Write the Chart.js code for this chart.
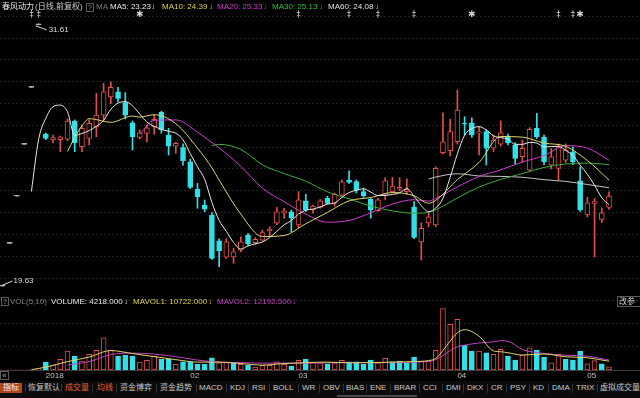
<!DOCTYPE html>
<html>
<head>
<meta charset="utf-8">
<title>春风动力 日线</title>
<script src="https://cdn.jsdelivr.net/npm/chart.js@4.4.1/dist/chart.umd.min.js"></script>
<style>
  body { margin: 0; width: 640px; height: 398px; background: #000; overflow: hidden; position: relative;
         font-family: "Liberation Sans", Arial, "Noto Sans CJK SC", sans-serif; font-size: 8px; }
  canvas { position: absolute; left: 0; }
  #price { top: 0; }
  #vol { top: 300px; }
  .t { position: absolute; white-space: nowrap; line-height: 10px; z-index: 2; }
  .box { position: absolute; border: 1px solid #5a5a5a; color: #999; text-align: center; line-height: 7px;
         font-size: 7px; z-index: 2; box-sizing: border-box; overflow: hidden; }
  #tabs { position: absolute; left: 0; top: 381px; width: 640px; height: 17px; background: #0b0b0b; }
  #tabs span { position: absolute; top: 2px; height: 10px; line-height: 10px; color: #c8c8c8; white-space: nowrap; }
  #tabs i { position: absolute; top: 3px; width: 1px; height: 9px; background: #333; }
</style>
</head>
<body>
<canvas id="price" width="640" height="290"></canvas>
<canvas id="vol" width="640" height="82"></canvas>

<div class="t" style="left:2px;top:2px;color:#e4e4e4">春风动力</div>
<div class="t" style="left:35px;top:2px;color:#d0d0d0">(日线,前复权)</div>
<div class="box" style="left:86px;top:3px;width:8px;height:9px">?</div>
<div class="t" style="left:96px;top:2px;color:#7a7a7a">MA</div>
<div class="t" style="left:110px;top:2px;color:#e8e8e8">MA5: 23.23</div>
<div class="t" style="left:151px;top:2px;color:#e8e8e8">↓</div>
<div class="t" style="left:162px;top:2px;color:#dcd64c">MA10: 24.39</div>
<div class="t" style="left:209px;top:2px;color:#dcd64c">↓</div>
<div class="t" style="left:217px;top:2px;color:#d23cd2">MA20: 25.33</div>
<div class="t" style="left:263px;top:2px;color:#d23cd2">↓</div>
<div class="t" style="left:272px;top:2px;color:#36c036">MA30: 25.13</div>
<div class="t" style="left:319px;top:2px;color:#36c036">↓</div>
<div class="t" style="left:328px;top:2px;color:#e0e0e0">MA60: 24.08</div>
<div class="t" style="left:375px;top:2px;color:#e0e0e0">↓</div>

<div class="box" style="left:1px;top:297px;width:8px;height:9px">?</div>
<div class="t" style="left:10px;top:297px;color:#808080">VOL(5,10)</div>
<div class="t" style="left:51px;top:297px;color:#e8e8e8">VOLUME: 4218.000</div>
<div class="t" style="left:124px;top:297px;color:#e8e8e8">↓</div>
<div class="t" style="left:133px;top:297px;color:#dcd64c">MAVOL1: 10722.000</div>
<div class="t" style="left:208px;top:297px;color:#dcd64c">↓</div>
<div class="t" style="left:217px;top:297px;color:#c040c0">MAVOL2: 12192.500</div>
<div class="t" style="left:292px;top:297px;color:#c040c0">↓</div>
<div class="box" style="left:617px;top:296px;width:26px;height:11px;color:#ccc;font-size:8px;line-height:9px;text-align:left;padding-left:1px">改参数</div>
<div class="box" style="left:0;top:371px;width:9px;height:9px;color:#aaa;font-size:8px">«</div>

<div id="tabs">
  <span style="left:0;background:#b4461c;color:#f2f2f2;padding:0 3px">指标</span>
  <i style="left:25px"></i><span style="left:28px">恢复默认</span>
  <i style="left:61px"></i><span style="left:65px;color:#e8643a">成交量</span>
  <i style="left:92px"></i><span style="left:97px;color:#e8643a">均线</span>
  <i style="left:116px"></i><span style="left:120px">资金博弈</span>
  <i style="left:156px"></i><span style="left:160px">资金趋势</span>
  <i style="left:196px"></i><span style="left:199px">MACD</span>
  <i style="left:226px"></i><span style="left:230px">KDJ</span>
  <i style="left:248px"></i><span style="left:252px">RSI</span>
  <i style="left:269px"></i><span style="left:273px">BOLL</span>
  <i style="left:298px"></i><span style="left:302px">WR</span>
  <i style="left:319px"></i><span style="left:323px">OBV</span>
  <i style="left:343px"></i><span style="left:346px">BIAS</span>
  <i style="left:366px"></i><span style="left:370px">ENE</span>
  <i style="left:390px"></i><span style="left:394px">BRAR</span>
  <i style="left:419px"></i><span style="left:423px">CCI</span>
  <i style="left:442px"></i><span style="left:446px">DMI</span>
  <i style="left:463px"></i><span style="left:467px">DKX</span>
  <i style="left:487px"></i><span style="left:491px">CR</span>
  <i style="left:506px"></i><span style="left:510px">PSY</span>
  <i style="left:529px"></i><span style="left:533px">KD</span>
  <i style="left:548px"></i><span style="left:552px">DMA</span>
  <i style="left:572px"></i><span style="left:576px">TRIX</span>
  <i style="left:597px"></i><span style="left:600px">虚拟成交量</span>
  <b style="position:absolute;left:337px;top:14px;width:80px;height:2px;background:#4a4a4a"></b>
</div>

<script>
// daily candles, index = trading day (0 = first limit-up day)
var opens = [
    19.63, 21.59, 23.75, 26.13, 28.74, 31.61, 26.60, 26.33, 26.35, 26.37,
    27.20, 26.02, 26.40, 26.94, 27.47, 28.31, 28.54, 28.04, 27.12, 26.45,
    26.63, 26.94, 27.60, 26.56, 26.05, 25.98, 25.33, 24.07, 23.35, 22.89,
    21.71, 20.95, 20.97, 21.28, 21.97, 21.62, 21.74, 22.17, 22.51, 22.97,
    23.04, 22.43, 23.54, 23.12, 23.24, 23.65, 23.42, 23.80, 24.49, 24.42,
    23.96, 23.61, 23.09, 23.80, 23.96, 24.07, 23.96, 23.27, 21.66, 22.53,
    22.43, 25.75, 25.84, 26.25, 27.10, 27.12, 26.64, 26.71, 25.95, 26.14,
    26.45, 26.10, 25.56, 24.95, 26.86, 26.45, 25.18, 25.03, 25.41, 25.79,
    24.46, 22.89, 23.42, 22.69, 23.24
];
var highs = [
    19.63, 21.59, 23.75, 26.13, 28.74, 31.61, 26.65, 26.56, 26.51, 27.30,
    27.25, 27.02, 27.25, 28.47, 28.93, 29.00, 28.75, 28.50, 27.20, 26.79,
    27.02, 27.47, 27.65, 26.86, 26.22, 26.15, 25.45, 24.34, 23.58, 23.00,
    21.80, 21.80, 21.36, 21.89, 22.05, 21.85, 22.20, 22.35, 23.24, 23.20,
    23.12, 23.96, 23.84, 23.35, 23.60, 23.75, 23.90, 24.50, 24.92, 24.50,
    24.12, 23.65, 23.65, 24.60, 24.62, 24.60, 24.55, 23.50, 22.53, 23.00,
    25.10, 27.58, 27.28, 28.62, 27.40, 27.35, 26.95, 26.80, 26.56, 27.20,
    26.60, 26.20, 26.33, 26.90, 27.55, 26.55, 25.95, 26.15, 26.15, 26.02,
    25.10, 23.70, 23.65, 23.20, 23.95
];
var lows = [
    19.63, 21.59, 23.75, 26.13, 28.74, 31.61, 26.35, 26.20, 25.79, 26.30,
    25.79, 25.79, 26.10, 26.48, 27.25, 28.00, 28.08, 27.30, 25.87, 26.38,
    26.24, 26.60, 26.64, 25.64, 25.72, 25.18, 24.10, 23.20, 23.04, 20.85,
    20.52, 20.90, 20.67, 21.20, 21.50, 21.55, 21.70, 21.90, 22.45, 22.73,
    22.12, 22.30, 23.05, 22.97, 23.20, 23.40, 23.30, 23.78, 24.34, 23.90,
    23.70, 22.74, 23.05, 23.58, 23.90, 24.00, 23.85, 21.80, 20.82, 22.35,
    22.35, 25.69, 25.60, 26.14, 26.56, 26.45, 25.64, 25.18, 25.80, 26.05,
    26.10, 25.23, 25.30, 24.90, 26.40, 25.20, 25.00, 24.49, 25.30, 25.20,
    23.05, 22.80, 20.97, 22.55, 23.15
];
var closes = [
    19.63, 21.59, 23.75, 26.13, 28.74, 31.61, 26.40, 26.44, 26.47, 27.20,
    26.20, 26.86, 27.09, 27.47, 28.54, 28.75, 28.24, 27.47, 26.48, 26.66,
    26.89, 27.28, 26.79, 26.05, 26.18, 25.38, 24.16, 23.73, 23.16, 20.90,
    21.25, 21.66, 21.20, 21.66, 21.56, 21.77, 22.08, 22.23, 23.04, 23.08,
    22.74, 23.58, 23.12, 23.30, 23.54, 23.42, 23.84, 24.41, 24.38, 24.03,
    23.77, 23.12, 23.58, 24.46, 24.22, 24.16, 24.07, 21.86, 22.28, 22.81,
    25.03, 26.25, 26.71, 27.70, 27.05, 26.56, 26.70, 25.95, 26.33, 26.66,
    26.20, 25.49, 25.95, 26.82, 26.48, 25.33, 25.56, 26.02, 25.87, 25.33,
    23.12, 23.45, 23.50, 22.99, 23.76
];
var volumes = [
    600, 300, 400, 500, 900, 1800, 9700, 6200, 12900, 22600,
    16700, 10900, 18700, 23400, 38100, 23400, 16700, 17600, 16700, 9700,
    11700, 16700, 12900, 12900, 7000, 10100, 10100, 7000, 7000, 14700,
    8900, 9700, 8900, 7000, 5900, 3900, 5900, 5900, 10100, 7000,
    5000, 11700, 12900, 9700, 8900, 7700, 8900, 11700, 10100, 10100,
    7000, 12100, 8900, 14000, 10100, 10900, 8900, 15600, 10900, 10900,
    23400, 72500, 53800, 59700, 29300, 22600, 22600, 20600, 18700, 24600,
    16700, 12100, 17900, 26400, 23800, 15600, 8900, 18800, 12900, 12100,
    22500, 7592, 11500, 7800, 4218
];

// moving averages
var ma5 = [
    null, null, null, null, 23.97, 26.36, 27.33, 27.86, 27.93, 27.62,
    26.54, 26.63, 26.76, 26.96, 27.23, 27.74, 28.02, 28.09, 27.90, 27.52,
    27.15, 26.96, 26.82, 26.73, 26.64, 26.34, 25.71, 25.10, 24.52, 23.47,
    22.64, 22.14, 21.63, 21.33, 21.47, 21.57, 21.65, 21.86, 22.14, 22.44,
    22.63, 22.93, 23.11, 23.16, 23.26, 23.39, 23.44, 23.70, 23.92, 24.02,
    24.09, 23.94, 23.78, 23.79, 23.83, 23.91, 24.10, 23.75, 23.32, 23.04,
    23.21, 23.65, 24.62, 25.70, 26.55, 26.85, 26.94, 26.79, 26.52, 26.44,
    26.37, 26.13, 26.13, 26.22, 26.19, 26.01, 26.03, 26.04, 25.85, 25.62,
    25.18, 24.76, 24.25, 23.68, 23.36
];
var maDays = [9, 10, 11, 12, 15, 18, 19, 21, 24, 27, 29, 30, 33, 36, 39, 42, 45, 48, 51, 54, 57, 59, 60, 63, 66, 69, 72, 75, 78, 81, 84];
var ma10 = [25.80, 26.45, 26.98, 27.31, 27.14, 27.43, 27.38, 27.49, 27.08, 25.96, 25.05, 24.49, 22.93, 21.90, 21.95, 22.49,
            23.01, 23.54, 23.69, 23.92, 23.77, 23.43, 23.56, 24.51, 25.30, 26.49, 26.46, 26.19, 26.04, 25.39, 24.49];
var ma20 = [null, null, null, null, null, null, 26.59, 27.23, 27.25, 26.69, 26.21, 25.97, 25.12, 24.12, 23.50, 22.93,
            22.56, 22.64, 22.99, 23.39, 23.59, 23.53, 23.65, 24.18, 24.66, 24.96, 25.32, 25.61, 26.07, 25.96, 25.40];
var ma30 = [null, null, null, null, null, null, null, null, null, null, 26.07, 26.13, 25.90, 25.19, 24.79, 24.44,
            23.95, 23.63, 23.30, 23.08, 22.97, 23.01, 23.13, 23.67, 24.17, 24.52, 24.79, 25.07, 25.23, 25.27, 25.20];
var ma60 = [null, null, null, null, null, null, null, null, null, null, null, null, null, null, null, null,
            null, null, null, null, null, 24.54, 24.63, 24.78, 24.68, 24.66, 24.62, 24.51, 24.43, 24.29, 24.14];

var volMaDays = [4, 6, 9, 12, 15, 18, 21, 24, 27, 30, 33, 36, 39, 42, 45, 48, 51, 54, 57, 59, 60, 62, 63, 64, 66, 68, 69, 70, 72, 75, 78, 81, 84];
var mavol1 = [900, 3800, 10300, 15600, 23200, 19700, 16100, 12600, 9700, 9700, 8000, 6200, 8000, 9100, 9700, 8900, 9100,
              9700, 10300, 11500, 14000, 34300, 44060, 47700, 40000, 22800, 21820, 20640, 18000, 19160, 16000, 14780, 10722];
var mavol2 = [null, null, 6400, 10300, 18500, 20200, 19100, 16100, 12100, 9700, 9100, 8500, 8500, 8500, 8900, 9100, 9100,
              9100, 9700, 10600, 12600, 23100, 27670, 29590, 32130, 33410, 34780, 34110, 24480, 19900, 17770, 16650, 12192.5];

var dateDays = [6, 26, 41, 63, 81];
var dateLabels = ["2018", "02", "03", "04", "05"];

var markerDays = [4, 5, 19, 41, 48, 52, 57, 65, 77, 79, 80];
var markerKinds = ["info", "info", "star", "info", "info", "info", "info", "star", "info", "info", "star"];

var RED = "#e0504a";
var CYAN = "#33e0e8";
var FLAT = "#b8b8b8";
var FONT = '"Liberation Sans", Arial, "Noto Sans CJK SC", sans-serif';

var days = opens.map(function(_, i) { return i; });

function pts(xs, ys) {
    return xs.map(function(d, k) { return {x: d, y: ys[k]}; }).filter(function(p) { return p.y !== null; });
}

var candleColors = days.map(function(i) {
    if (closes[i] > opens[i]) return RED;
    if (closes[i] < opens[i]) return CYAN;
    return FLAT;
});
var bodyFill = days.map(function(i) { return closes[i] > opens[i] ? "#000" : candleColors[i]; });
var volUp = days.map(function(i) { return i === 0 || closes[i] >= closes[i - 1]; });

function maLine(data, color) {
    return {type: "line", data: data, borderColor: color, borderWidth: 1, pointRadius: 0,
            cubicInterpolationMode: "monotone", order: 0};
}

// shared day axis: no bar offset so both panels line up
function dayAxis(extra) {
    return Object.assign({type: "linear", min: -0.35, max: 88.29, offset: false}, extra);
}

var marks = {
    id: "marks",
    afterDatasetsDraw: function(chart) {
        var ctx = chart.ctx, x = chart.scales.x, y = chart.scales.y;
        ctx.save();
        ctx.textAlign = "center";
        ctx.textBaseline = "middle";
        ctx.fillStyle = "#d0d0d0";
        markerDays.forEach(function(d, k) {
            ctx.font = markerKinds[k] === "star" ? '9px "DejaVu Sans"' : '8px "DejaVu Sans"';
            ctx.fillText(markerKinds[k] === "star" ? "✱" : "‡", x.getPixelForValue(d), 15);
        });
        // highest high and lowest low
        var hi = highs.indexOf(Math.max.apply(null, highs));
        var lo = lows.indexOf(Math.min.apply(null, lows));
        var hx = x.getPixelForValue(hi), hy = y.getPixelForValue(highs[hi]);
        var lx = x.getPixelForValue(lo), ly = y.getPixelForValue(lows[lo]);
        ctx.strokeStyle = "#d8d8d8";
        ctx.lineWidth = 1;
        ctx.beginPath();
        ctx.moveTo(hx - 3, hy + 1); ctx.lineTo(hx + 8, hy + 5);
        ctx.moveTo(lx, ly - 1); ctx.lineTo(lx + 10, ly - 5);
        ctx.stroke();
        ctx.font = "8px " + FONT;
        ctx.textAlign = "left";
        ctx.fillStyle = "#dcdcdc";
        ctx.fillText(highs[hi].toFixed(2), hx + 10, hy + 5);
        ctx.fillText(lows[lo].toFixed(2), lx + 11, ly - 5);
        ctx.restore();
    }
};

new Chart(document.getElementById("price"), {
    data: {
        datasets: [
            maLine(pts(days, ma5), "#e8e8e8"),
            maLine(pts(maDays, ma10), "#dcd66a"),
            maLine(pts(maDays, ma20), "#d23cd2"),
            maLine(pts(maDays, ma30), "#3cae3c"),
            maLine(pts(maDays, ma60), "#c4c4c4"),
            {
                type: "bar",
                data: days.map(function(i) { return {x: i, y: [opens[i], closes[i]]}; }),
                backgroundColor: bodyFill,
                borderColor: candleColors,
                borderWidth: 1,
                borderSkipped: false,
                barThickness: 5,
                minBarLength: 1,
                grouped: false,
                order: 1
            },
            {
                type: "bar",
                data: days.map(function(i) { return {x: i, y: [lows[i], highs[i]]}; }),
                backgroundColor: candleColors,
                borderWidth: 0,
                barThickness: 1,
                minBarLength: 1,
                grouped: false,
                order: 2
            }
        ]
    },
    options: {
        responsive: false,
        animation: false,
        events: [],
        layout: {padding: 0},
        plugins: {legend: {display: false}, tooltip: {enabled: false}},
        scales: {
            x: dayAxis({display: false}),
            y: {
                min: 19.45, max: 32.75,
                ticks: {display: false, stepSize: 1, includeBounds: false},
                grid: {color: "#202020", drawTicks: false},
                border: {display: false, dash: [2, 2]}
            }
        }
    },
    plugins: [marks]
});

new Chart(document.getElementById("vol"), {
    data: {
        datasets: [
            maLine(pts(volMaDays, mavol1), "#dcd66a"),
            maLine(pts(volMaDays, mavol2), "#c040c0"),
            {
                type: "bar",
                data: days.map(function(i) { return {x: i, y: volumes[i]}; }),
                backgroundColor: days.map(function(i) { return volUp[i] ? "#000" : CYAN; }),
                borderColor: days.map(function(i) { return volUp[i] ? RED : CYAN; }),
                borderWidth: 1,
                borderSkipped: false,
                barThickness: 5,
                order: 1
            }
        ]
    },
    options: {
        responsive: false,
        animation: false,
        events: [],
        layout: {padding: 0},
        plugins: {legend: {display: false}, tooltip: {enabled: false}},
        scales: {
            x: dayAxis({
                display: true,
                grid: {display: false, drawTicks: false, offset: false},
                border: {display: true, color: "#3a3a3a"},
                afterBuildTicks: function(axis) {
                    axis.ticks = dateDays.map(function(v) { return {value: v}; });
                },
                ticks: {
                    autoSkip: false, maxRotation: 0, minRotation: 0, align: "start", padding: 1,
                    color: "#c4c4c4", font: {size: 8, family: FONT},
                    callback: function(v, k) { return dateLabels[k]; }
                }
            }),
            y: {
                min: 0, max: 82400,
                ticks: {display: false, stepSize: 25740, includeBounds: false},
                grid: {color: "#202020", drawTicks: false},
                border: {display: false, dash: [2, 2]}
            }
        }
    }
});
</script>
</body>
</html>
